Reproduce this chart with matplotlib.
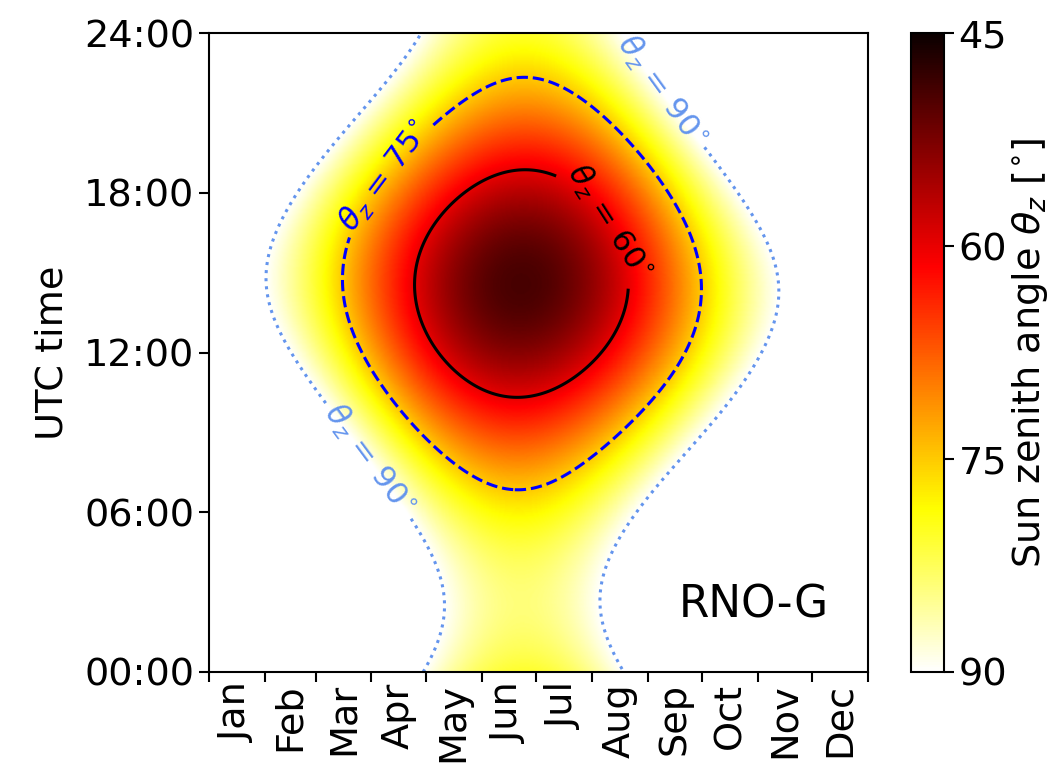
import numpy as np
import matplotlib
matplotlib.use("Agg")
import matplotlib.pyplot as plt

# -------------------------------
# Station / chart data
# -------------------------------
station_name = "RNO-G"
station_lat = 72.58    # deg N (Summit Station)
station_lon = -38.46   # deg E

month_names = ["Jan", "Feb", "Mar", "Apr", "May", "Jun",
               "Jul", "Aug", "Sep", "Oct", "Nov", "Dec"]
month_days = [31, 28, 31, 30, 31, 30, 31, 31, 30, 31, 30, 31]

hour_ticks = [0, 6, 12, 18, 24]
hour_labels = ["00:00", "06:00", "12:00", "18:00", "24:00"]

contour_levels = [60, 75, 90]
contour_colors = ["black", "blue", "cornflowerblue"]
contour_styles = ["solid", "dashed", "dotted"]
# label positions (day of year, UTC hour)
label_pos = {60: [(219, 16.8)], 75: [(92, 18.9)], 90: [(81, 7.6), (262, 22.4)]}

cbar_ticks = [45, 60, 75, 90]

# -------------------------------
# Sun zenith angle over the year
# -------------------------------
def sun_zenith(day, hour, lat, lon):
    g = 2 * np.pi / 365.0 * (day - 1 + (hour - 12) / 24.0)
    decl = (0.006918 - 0.399912 * np.cos(g) + 0.070257 * np.sin(g)
            - 0.006758 * np.cos(2 * g) + 0.000907 * np.sin(2 * g)
            - 0.002697 * np.cos(3 * g) + 0.00148 * np.sin(3 * g))
    eqtime = 229.18 * (0.000075 + 0.001868 * np.cos(g) - 0.032077 * np.sin(g)
                       - 0.014615 * np.cos(2 * g) - 0.040849 * np.sin(2 * g))
    tst = hour * 60 + eqtime + 4 * lon
    ha = np.radians(tst / 4.0 - 180)
    phi = np.radians(lat)
    cosz = np.sin(phi) * np.sin(decl) + np.cos(phi) * np.cos(decl) * np.cos(ha)
    return np.degrees(np.arccos(np.clip(cosz, -1, 1)))

days = np.linspace(0, 365, 731)
hours = np.linspace(0, 24, 481)
D, H = np.meshgrid(days, hours)
Z = sun_zenith(D, H, station_lat, station_lon)

# -------------------------------
# Plot
# -------------------------------
plt.rcParams["font.family"] = "DejaVu Sans"
fs = 27.5

fig = plt.figure(figsize=(10.52, 7.82), dpi=100)
ax = fig.add_axes([209 / 1052, 110 / 782, 659 / 1052, 639 / 782])
cax = fig.add_axes([911 / 1052, 110 / 782, 33 / 1052, 639 / 782])

# 45 deg -> black, 90 deg (and sun below horizon) -> white
im = ax.pcolormesh(D, H, np.clip(Z, 45, 90), cmap="hot", vmin=45, vmax=90,
                   shading="gouraud", rasterized=True)

for lev, col, ls in zip(contour_levels, contour_colors, contour_styles):
    cs = ax.contour(D, H, Z, levels=[lev], colors=col, linestyles=ls,
                    linewidths=2.2)
    ax.clabel(cs, fmt={lev: r"$\theta_z$ = %d$^{\circ}$" % lev},
              manual=label_pos[lev], fontsize=22.5, inline=True,
              inline_spacing=6)

ax.text(0.94, 0.105, station_name, transform=ax.transAxes, ha="right",
        va="center", fontsize=31.5)

month_start = np.concatenate([[0], np.cumsum(month_days)])
month_mid = month_start[:-1] + np.array(month_days) / 2.0
ax.set_xlim(0, 365)
ax.set_ylim(0, 24)
ax.set_xticks(month_start)
ax.set_xticklabels([])
ax.set_xticks(month_mid, minor=True)
ax.set_xticklabels(month_names, minor=True, rotation=90, fontsize=fs)
ax.tick_params(axis="x", which="minor", length=0, pad=8)
ax.tick_params(axis="both", which="major", length=7, width=1.5)
ax.set_yticks(hour_ticks)
ax.set_yticklabels(hour_labels, fontsize=fs)
ax.set_ylabel("UTC time", fontsize=fs, labelpad=10)
for sp in ax.spines.values():
    sp.set_linewidth(1.5)

cb = fig.colorbar(im, cax=cax)
cb.set_ticks(cbar_ticks)
cb.ax.tick_params(labelsize=fs, length=7, width=1.5)
cb.ax.invert_yaxis()
cb.outline.set_linewidth(1.5)
cb.set_label(r"Sun zenith angle $\theta_z$ [$^{\circ}$]", fontsize=fs,
             labelpad=2)

fig.savefig("out.png", dpi=100)
